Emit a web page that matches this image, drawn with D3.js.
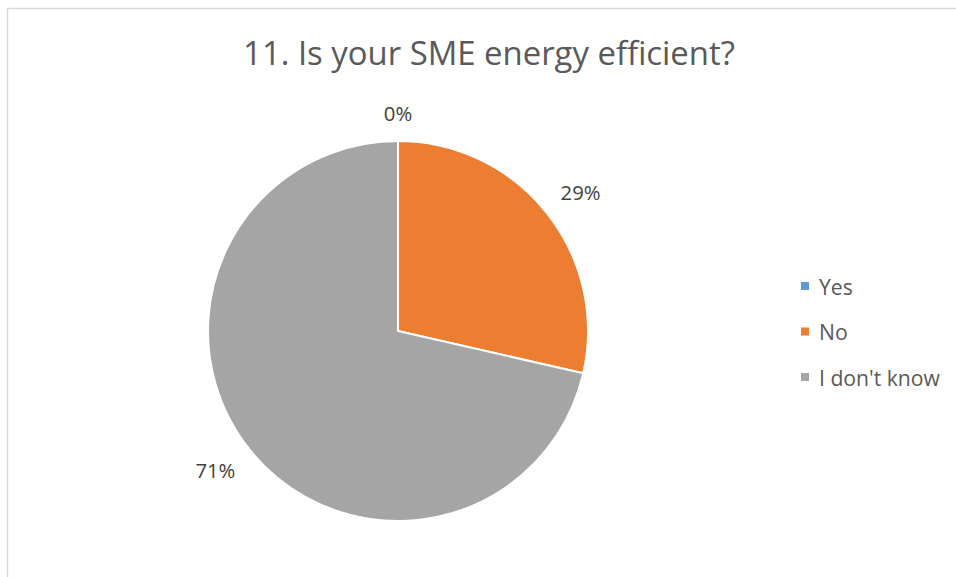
<!DOCTYPE html>
<html lang="en">
    <head>
        <meta charset="utf-8">
        <title>11. Is your SME energy efficient?</title>
        <script type="text/javascript" src="https://d3js.org/d3.v7.min.js"></script>
        <style>
            body { margin: 0; background: #fff; }
        </style>
    </head>
    <body>
        <script type="text/javascript">
          // chart data
          const categories = ["Yes", "No", "I don't know"]
          const counts = [0, 2, 5]
          const colors = ["#5b9bd5", "#ed7d31", "#a5a5a5"]
          const titleText = "11. Is your SME energy efficient?"

          const w = 956, h = 577
          const font = "'Open Sans', 'Liberation Sans', sans-serif"

          const svg = d3.select("body")
                        .append("svg")
                        .attr("width", w)
                        .attr("height", h)

          // scale a text's font size so it spans the wanted width
          const fitWidth = (sel, size, want) => {
            sel.attr("font-size", size)
            const got = sel.node().getComputedTextLength()
            const s = size * want / got
            sel.attr("font-size", s)
            return s
          }

          // chart frame (right and bottom edges run off the picture)
          svg.append("rect")
            .attr("x", 7.5)
            .attr("y", 8.5)
            .attr("width", 1000)
            .attr("height", 1000)
            .attr("fill", "#fff")
            .attr("stroke", "#d9d9d9")
            .attr("stroke-width", 1.5)

          const title = svg.append("text")
            .attr("x", 489)
            .attr("y", 65)
            .attr("text-anchor", "middle")
            .attr("font-family", font)
            .attr("fill", "#595959")
            .text(titleText)
          fitWidth(title, 30, 492)

          const cx = 398, cy = 331, r = 190
          const g = svg.append("g").attr("transform", `translate(${cx},${cy})`)

          const total = d3.sum(counts)
          const data = categories.map((c, i) => ({ name: c, value: counts[i], color: colors[i] }))
          const pie = d3.pie().sort(null).value(d => d.value)
          const arcs = pie(data)
          const arc = d3.arc().innerRadius(0).outerRadius(r)

          g.selectAll("path")
            .data(arcs.filter(d => d.value > 0))
            .enter()
            .append("path")
            .attr("d", arc)
            .attr("fill", d => d.data.color)
            .attr("stroke", "#fff")
            .attr("stroke-width", 2)
            .attr("stroke-linejoin", "round")

          // data labels outside end
          const probe = svg.append("text").attr("font-family", font).text("29%")
          const labelSize = fitWidth(probe, 18, 40)
          probe.remove()

          const gap = 18
          const labels = g.selectAll("text.lbl")
            .data(arcs)
            .enter()
            .append("text")
            .attr("class", "lbl")
            .attr("font-family", font)
            .attr("font-size", labelSize)
            .attr("fill", "#404040")
            .attr("text-anchor", "middle")
            .attr("dominant-baseline", "central")
            .text(d => `${Math.round(d.value / total * 100)}%`)

          labels.each(function(d) {
            const a = (d.startAngle + d.endAngle) / 2
            const bb = this.getBBox()
            const sx = Math.sin(a), sy = -Math.cos(a)
            const px = (r + gap) * sx + Math.sign(Math.round(sx * 1000)) * bb.width / 2
            const py = (r + gap) * sy + Math.sign(Math.round(sy * 1000)) * bb.height / 2 * 0.7
            d3.select(this).attr("x", px).attr("y", py)
          })

          // legend
          const probe2 = svg.append("text").attr("font-family", font).text("I don't know")
          const legendSize = fitWidth(probe2, 18, 121)
          probe2.remove()

          const legend = svg.append("g")
            .attr("transform", "translate(801,286)")
          const item = legend.selectAll("g")
            .data(data)
            .enter()
            .append("g")
            .attr("transform", (d, i) => `translate(0,${i * 45.5})`)
          item.append("rect")
            .attr("x", 0)
            .attr("y", -4)
            .attr("width", 8)
            .attr("height", 8)
            .attr("fill", d => d.color)
          item.append("text")
            .attr("x", 18)
            .attr("y", 0)
            .attr("dominant-baseline", "central")
            .attr("font-family", font)
            .attr("font-size", legendSize)
            .attr("fill", "#595959")
            .text(d => d.name)
        </script>
    </body>
</html>
